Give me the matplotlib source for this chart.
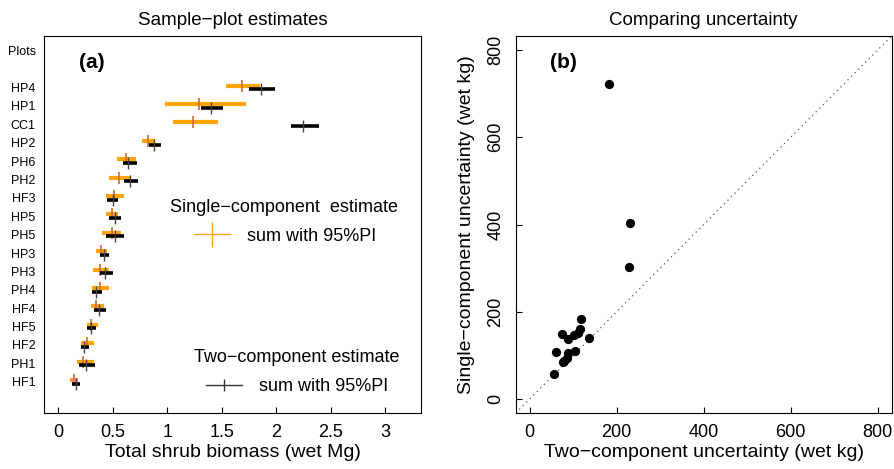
import numpy as np
import matplotlib
matplotlib.use("Agg")
import matplotlib.pyplot as plt
from matplotlib.lines import Line2D

plt.rcParams['font.family'] = ['Liberation Sans', 'DejaVu Sans']

# plots listed bottom to top
plots = ["HF1", "PH1", "HF2", "HF5", "HF4", "PH4", "PH3", "HP3", "PH5",
         "HP5", "HF3", "PH2", "PH6", "HP2", "CC1", "HP1", "HP4"]

# single-component estimate and 95% PI (wet Mg)
single_est = [0.14, 0.23, 0.26, 0.30, 0.35, 0.38, 0.38, 0.39, 0.49,
              0.49, 0.51, 0.56, 0.62, 0.82, 1.24, 1.29, 1.69]
single_lo = [0.11, 0.17, 0.21, 0.26, 0.30, 0.31, 0.32, 0.35, 0.40,
             0.44, 0.44, 0.47, 0.54, 0.77, 1.05, 0.98, 1.54]
single_hi = [0.18, 0.33, 0.33, 0.36, 0.42, 0.47, 0.47, 0.45, 0.58,
             0.55, 0.60, 0.66, 0.71, 0.89, 1.47, 1.72, 1.85]

# two-component estimate and 95% PI (wet Mg)
two_est = [0.16, 0.25, 0.24, 0.30, 0.37, 0.35, 0.43, 0.42, 0.52,
           0.52, 0.50, 0.66, 0.64, 0.88, 2.25, 1.40, 1.86]
two_lo = [0.13, 0.19, 0.21, 0.26, 0.33, 0.31, 0.38, 0.38, 0.44,
          0.47, 0.45, 0.60, 0.59, 0.83, 2.14, 1.31, 1.75]
two_hi = [0.20, 0.34, 0.28, 0.35, 0.44, 0.40, 0.50, 0.47, 0.60,
          0.58, 0.55, 0.73, 0.72, 0.94, 2.39, 1.51, 1.99]

# uncertainty comparison (wet kg)
two_unc = [183, 231, 228, 118, 75, 116, 103, 111, 89, 137, 61, 105, 88, 86, 76, 79, 55]
single_unc = [722, 403, 303, 183, 148, 160, 147, 152, 138, 141, 107, 111, 105, 93, 84, 87, 58]

fig = plt.figure(figsize=(8.95, 4.69), dpi=100)
axa = fig.add_axes([0.0492, 0.1194, 0.4212, 0.8038])
axb = fig.add_axes([0.5762, 0.1194, 0.4201, 0.8038])

# ---- panel (a)
rows = np.arange(1, len(plots) + 1)
s_est = np.array(single_est)
t_est = np.array(two_est)
axa.hlines(rows + 0.1, single_lo, single_hi, color='orange', lw=3)
axa.plot(s_est, rows + 0.1, ls='none', marker='|', ms=9, mew=1.2, color='#d0693a')
axa.hlines(rows - 0.1, two_lo, two_hi, color='black', lw=2.6)
axa.plot(t_est, rows - 0.1, ls='none', marker='|', ms=9, mew=1.0, color='#444444')

axa.set_xlim(-0.131, 3.33)
axa.set_ylim(-0.7, 19.8)
axa.set_xticks([0, 0.5, 1, 1.5, 2, 2.5, 3])
axa.set_xticklabels(["0", "0.5", "1", "1.5", "2", "2.5", "3"])
axa.set_yticks(list(rows) + [19])
axa.set_yticklabels(plots + ["Plots"], fontsize=9)
axa.tick_params(axis='y', length=0, pad=6)
axa.tick_params(axis='x', direction='in', length=4, labelsize=13, pad=8)
axa.set_xlabel("Total shrub biomass (wet Mg)", fontsize=14, labelpad=2)
axa.set_title("Sample\u2212plot estimates", fontsize=13.5, pad=8)
axa.text(0.127, 0.931, "(a)", transform=axa.transAxes, fontsize=15,
         fontweight='bold', ha='center', va='center')

# legend blocks: heading text + one entry each
axa.text(0.637, 0.544, "Single\u2212component  estimate", transform=axa.transAxes,
         fontsize=13, ha='center', va='center')
leg1 = axa.legend(handles=[Line2D([], [], color='orange', lw=1, marker='|',
                                  ms=18, mew=1)],
                  labels=["sum with 95%PI"], frameon=False, loc='center left',
                  bbox_to_anchor=(0.398, 0.469), fontsize=13, handlelength=2.0,
                  handletextpad=0.95, borderaxespad=0, borderpad=0)
axa.add_artist(leg1)
axa.text(0.671, 0.146, "Two\u2212component estimate", transform=axa.transAxes,
         fontsize=13, ha='center', va='center')
axa.legend(handles=[Line2D([], [], color='#333333', lw=1, marker='|', ms=8, mew=1)],
           labels=["sum with 95%PI"], frameon=False, loc='center left',
           bbox_to_anchor=(0.430, 0.069), fontsize=13, handlelength=2.0,
           handletextpad=0.95, borderaxespad=0, borderpad=0)

# ---- panel (b)
axb.scatter(two_unc, single_unc, s=32, color='black', zorder=3)
axb.plot([-32, 832], [-32, 832], ls=(0, (1, 3)), color='#555555', lw=0.9)
axb.set_xlim(-32, 832)
axb.set_ylim(-32, 832)
ticks = [0, 200, 400, 600, 800]
axb.set_xticks(ticks)
axb.set_yticks(ticks)
axb.tick_params(direction='in', length=4, labelsize=13, pad=8)
for lab in axb.get_yticklabels():
    lab.set_rotation(90)
    lab.set_va('center')
axb.set_xlabel("Two\u2212component uncertainty (wet kg)", fontsize=14, labelpad=2)
axb.set_ylabel("Single\u2212component uncertainty (wet kg)", fontsize=14, labelpad=9)
axb.set_title("Comparing uncertainty", fontsize=13.5, pad=8)
axb.text(0.128, 0.931, "(b)", transform=axb.transAxes, fontsize=15,
         fontweight='bold', ha='center', va='center')

fig.savefig("out.png", dpi=100)
